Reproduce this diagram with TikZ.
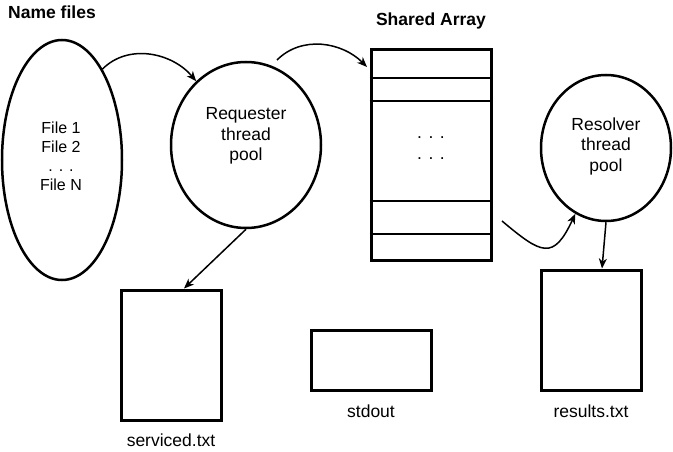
\documentclass[tikz,border=0pt]{standalone}
\usepackage{fontspec}
\setmainfont{Liberation Sans}
\usetikzlibrary{shapes.geometric,arrows.meta}

\begin{document}
\begin{tikzpicture}[x=1pt,y=1pt,
    pool/.style={draw,ellipse,line width=2.5pt,inner sep=0pt},
    box/.style={draw,rectangle,line width=3pt,inner sep=0pt},
    flow/.style={line width=1.5pt,-{Stealth[length=10pt,width=8pt,inset=3pt]}},
    txt/.style={font=\fontsize{17.5}{20.5}\selectfont,align=center},
    ]
    % Page size, one unit is one pixel of the reference
    \useasboundingbox (0,0) rectangle (673,-452);

    % Thread pools and the file list
    \node (files) [pool,minimum width=120,minimum height=240] at (62,-160) {};
    \node (req) [pool,minimum width=150,minimum height=166] at (246,-145) {};
    \node (res) [pool,minimum width=130,minimum height=146] at (606,-148) {};

    % Shared array with its slots
    \node (arr) [box,minimum width=120,minimum height=210] at (431,-155) {};
    \foreach \d in {30,53,152,185}
        \draw[line width=2pt] ([yshift=-\d]arr.north west) -- ([yshift=-\d]arr.north east);

    % Output files
    \node (srv) [box,minimum width=100,minimum height=130] at (171,-355) {};
    \node (out) [box,minimum width=120,minimum height=60] at (371,-360) {};
    \node (rsl) [box,minimum width=100,minimum height=120] at (591,-330) {};

    % Texts
    \node (title) [txt,font=\fontsize{17.5}{20.5}\selectfont\bfseries] at (52,-12) {Name files};
    \node (arrtitle) [txt,font=\fontsize{17.5}{20.5}\selectfont\bfseries] at (431,-21) {Shared Array};
    \node (filelist) [txt,font=\fontsize{16}{19}\selectfont] at (61,-156) {File 1\\File 2\\. . .\\File N};
    \node (reqlbl) [txt] at (246,-136) {Requester\\thread\\pool};
    \node (reslbl) [txt] at (606,-146) {Resolver\\thread\\pool};
    \node (arrdots) [txt] at (431,-148) {. . .\\. . .};
    \node (srvlbl) [txt] at (171,-440) {serviced.txt};
    \node (outlbl) [txt] at (371,-411) {stdout};
    \node (rsllbl) [txt] at (591,-411) {results.txt};

    % Free ends of the arrows
    \coordinate (a2s) at (277,-60);
    \coordinate (a2e) at (367,-67);
    \coordinate (a3s) at (502,-221);

    % Arrows
    \draw[flow] (files.66) to[out=45,in=130] (req.128);
    \draw[flow] (a2s) to[out=45,in=135] (a2e);
    \draw[flow] (a3s) to[out=-40,in=-115,looseness=1.8] (res.245);
    \draw[flow] (req.south) -- ([xshift=13]srv.north);
    \draw[flow] (res.south) -- ([xshift=11]rsl.north);

\end{tikzpicture}
\end{document}
